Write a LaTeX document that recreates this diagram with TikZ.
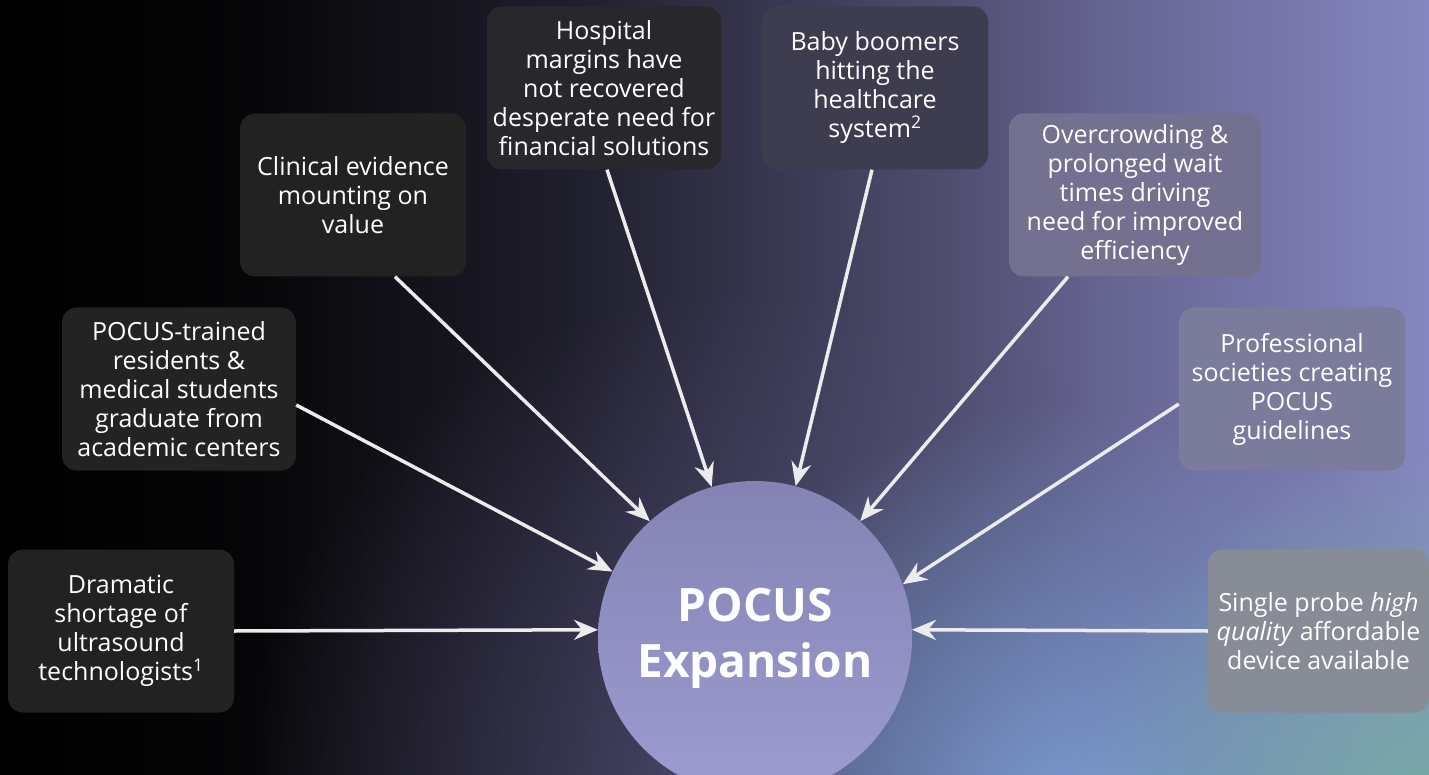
\documentclass[tikz,border=0pt]{standalone}
\usepackage{fontspec}
\setmainfont{Open Sans}
\usetikzlibrary{arrows.meta,fadings}

\definecolor{bgdark}{HTML}{060608}
\definecolor{bgone}{HTML}{1E1D2A}
\definecolor{bgtwo}{HTML}{34334A}
\definecolor{bgthree}{HTML}{4F4E70}
\definecolor{bgfour}{HTML}{656390}
\definecolor{bgright}{HTML}{8587C0}
\definecolor{glowblue}{HTML}{7A9CD2}
\definecolor{glowteal}{HTML}{78AAA6}
\definecolor{glowpurple}{HTML}{55537A}
\definecolor{hubtop}{HTML}{8483B4}
\definecolor{hubbot}{HTML}{9C9CD0}
\definecolor{arrowwhite}{HTML}{ECECEC}
\definecolor{boxA}{HTML}{222222}
\definecolor{boxB}{HTML}{232323}
\definecolor{boxC}{HTML}{222222}
\definecolor{boxD}{HTML}{28282C}
\definecolor{boxE}{HTML}{3E3D4F}
\definecolor{boxF}{HTML}{73718F}
\definecolor{boxG}{HTML}{7B7B9B}
\definecolor{boxH}{HTML}{878C96}

\pgfdeclarehorizontalshading{backdrop}{100bp}{color(0bp)=(black); color(25bp)=(black); color(33.7bp)=(bgdark); color(44.6bp)=(bgone); color(50.9bp)=(bgtwo); color(58.2bp)=(bgthree); color(63.5bp)=(bgfour); color(75bp)=(bgright); color(100bp)=(bgright)}
\tikzfading[name=glow, inner color=transparent!0, outer color=transparent!100]

\begin{document}
\begin{tikzpicture}[x=1pt, y=-1pt,
    factor/.style={rectangle, rounded corners=15pt, minimum width=226pt, minimum height=163pt,
        inner sep=0pt, align=center, text=white, font=\fontsize{25}{29}\selectfont},
    push/.style={draw=arrowwhite, line width=3.5pt, -{Stealth[length=24pt, width=20pt, inset=8pt]}}]

    % Background
    \useasboundingbox (0,0) rectangle (1429,775);
    \shade[shading=backdrop] (0,0) rectangle (1429,775);
    \begin{scope}
        \clip (0,0) rectangle (1429,775);
        \fill[glowpurple, path fading=glow, opacity=0.7] (760,800) circle (520);
        \fill[glowblue, path fading=glow] (1080,830) circle (430);
        \fill[glowteal, path fading=glow] (1429,800) circle (350);
    \end{scope}

    % Central node
    \node[circle, minimum size=314pt, inner sep=0pt, top color=hubtop, bottom color=hubbot,
        text=white, align=center, font=\fontsize{46}{56}\selectfont\bfseries] (hub) at (755,638) {POCUS\\Expansion};

    % Drivers (clockwise from bottom left)
    \node[factor, fill=boxA] (shortage) at (121,631) {Dramatic\\shortage of\\ultrasound\\technologists\textsuperscript{1}};
    \node[factor, fill=boxB, minimum width=234pt] (trained) at (179,389) {POCUS-trained\\residents \&\\medical students\\graduate from\\academic centers};
    \node[factor, fill=boxC] (evidence) at (353,195) {Clinical evidence\\mounting on\\value};
    \node[factor, fill=boxD, minimum width=234pt] (margins) at (604,88) {Hospital\\margins have\\not recovered\\desperate need for\\financial solutions};
    \node[factor, fill=boxE] (boomers) at (875,88) {Baby boomers\\hitting the\\healthcare\\system\textsuperscript{2}};
    \node[factor, fill=boxF, minimum width=252pt] (crowding) at (1135,195) {Overcrowding \&\\prolonged wait\\times driving\\need for improved\\efficiency};
    \node[factor, fill=boxG] (societies) at (1292,389) {Professional\\societies creating\\POCUS\\guidelines};
    \node[factor, fill=boxH, minimum width=221pt] (probe) at (1318.5,631) {Single probe \textit{high}\\\textit{quality} affordable\\device available};

    % Draw arrows
    \draw[push] (shortage.east) -- (hub.177);
    \draw[push] ([yshift=-16pt]trained.east) -- (hub.155);
    \draw[push] ([xshift=42pt]evidence.south) -- (hub.132);
    \draw[push] ([xshift=3pt]margins.south) -- (hub.106);
    \draw[push] ([xshift=-3pt]boomers.south) -- (hub.75);
    \draw[push] ([xshift=-67pt]crowding.south) -- (hub.48);
    \draw[push] ([yshift=-15pt]societies.west) -- (hub.20);
    \draw[push] (probe.west) -- (hub.3);
\end{tikzpicture}
\end{document}
